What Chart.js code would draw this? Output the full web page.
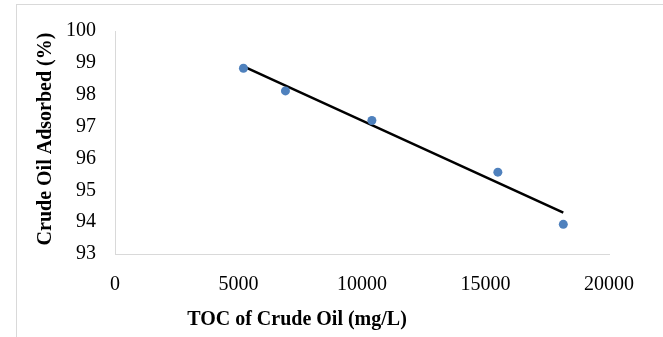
<!DOCTYPE html>
<html><head><meta charset="utf-8">
<script src="https://cdn.jsdelivr.net/npm/chart.js@4/dist/chart.umd.min.js"></script>
<style>html,body{margin:0;padding:0;background:#fff;}#wrap{width:663px;height:337px;}</style>
</head><body><div id="wrap"><canvas id="c" width="663" height="337"></canvas></div>
<script>
const tocValues = [5200, 6900, 10400, 15500, 18150];
const adsorbedValues = [98.83, 98.12, 97.19, 95.57, 93.93];
const trendX = [5200, 18150];
const trendY = [98.89, 94.30];
const xTicks = [0, 5000, 10000, 15000, 20000];
const yTicks = [93, 94, 95, 96, 97, 98, 99, 100];
const xTitle = 'TOC of Crude Oil (mg/L)';
const yTitle = 'Crude Oil Adsorbed (%)';

const FONT = '"Liberation Serif", "Times New Roman", serif';

const framePlugin = {
  id: 'frame',
  beforeDraw(chart) {
    const ctx = chart.ctx;
    ctx.save();
    ctx.fillStyle = '#fff';
    ctx.fillRect(0, 0, chart.width, chart.height);
    ctx.strokeStyle = '#d9d9d9';
    ctx.lineWidth = 1;
    ctx.strokeRect(16.5, 4.5, 700, 400);
    ctx.restore();
  },
  afterDraw(chart) {
    const ctx = chart.ctx;
    const a = chart.chartArea;
    ctx.save();
    ctx.fillStyle = '#000';
    ctx.font = 'bold 20px ' + FONT;
    ctx.textAlign = 'center';
    ctx.textBaseline = 'middle';
    ctx.fillText(xTitle, a.left + 182, a.bottom + 66);
    ctx.translate(46, a.top + 108);
    ctx.rotate(-Math.PI / 2);
    ctx.fillText(yTitle, 0, 0);
    ctx.restore();
  }
};

const pts = tocValues.map((x, i) => ({x, y: adsorbedValues[i]}));
const trend = trendX.map((x, i) => ({x, y: trendY[i]}));

new Chart(document.getElementById('c'), {
  type: 'scatter',
  data: {
    datasets: [
      {
        type: 'line', data: trend, borderColor: '#000', borderWidth: 2.5,
        pointRadius: 0, fill: false, order: 2
      },
      {
        data: pts, backgroundColor: '#4F81BD', borderColor: '#4F81BD',
        pointRadius: 4.5, pointBorderWidth: 0, order: 1
      }
    ]
  },
  options: {
    responsive: false, animation: false,
    plugins: { legend: { display: false }, tooltip: { enabled: false } },
    layout: { padding: { top: 28, right: 54, left: 0, bottom: 0 } },
    scales: {
      x: {
        type: 'linear', min: 0, max: 20000,
        afterBuildTicks(s) { s.ticks = xTicks.map(v => ({value: v})); },
        afterFit(s) { s.height = 83; },
        grid: { display: false, drawTicks: false },
        border: { display: true, color: '#d9d9d9', width: 1 },
        ticks: {
          padding: 19, color: '#000', maxRotation: 0,
          callback: v => String(v),
          font: { family: FONT, size: 20 }
        }
      },
      y: {
        type: 'linear', min: 93, max: 100,
        afterBuildTicks(s) { s.ticks = yTicks.map(v => ({value: v})); },
        afterFit(s) { s.width = 115; },
        grid: { display: false, drawTicks: false },
        border: { display: true, color: '#d9d9d9', width: 1 },
        ticks: {
          padding: 19, color: '#000',
          callback: v => String(v),
          font: { family: FONT, size: 20 }
        }
      }
    }
  },
  plugins: [framePlugin]
});
</script>
</body></html>
